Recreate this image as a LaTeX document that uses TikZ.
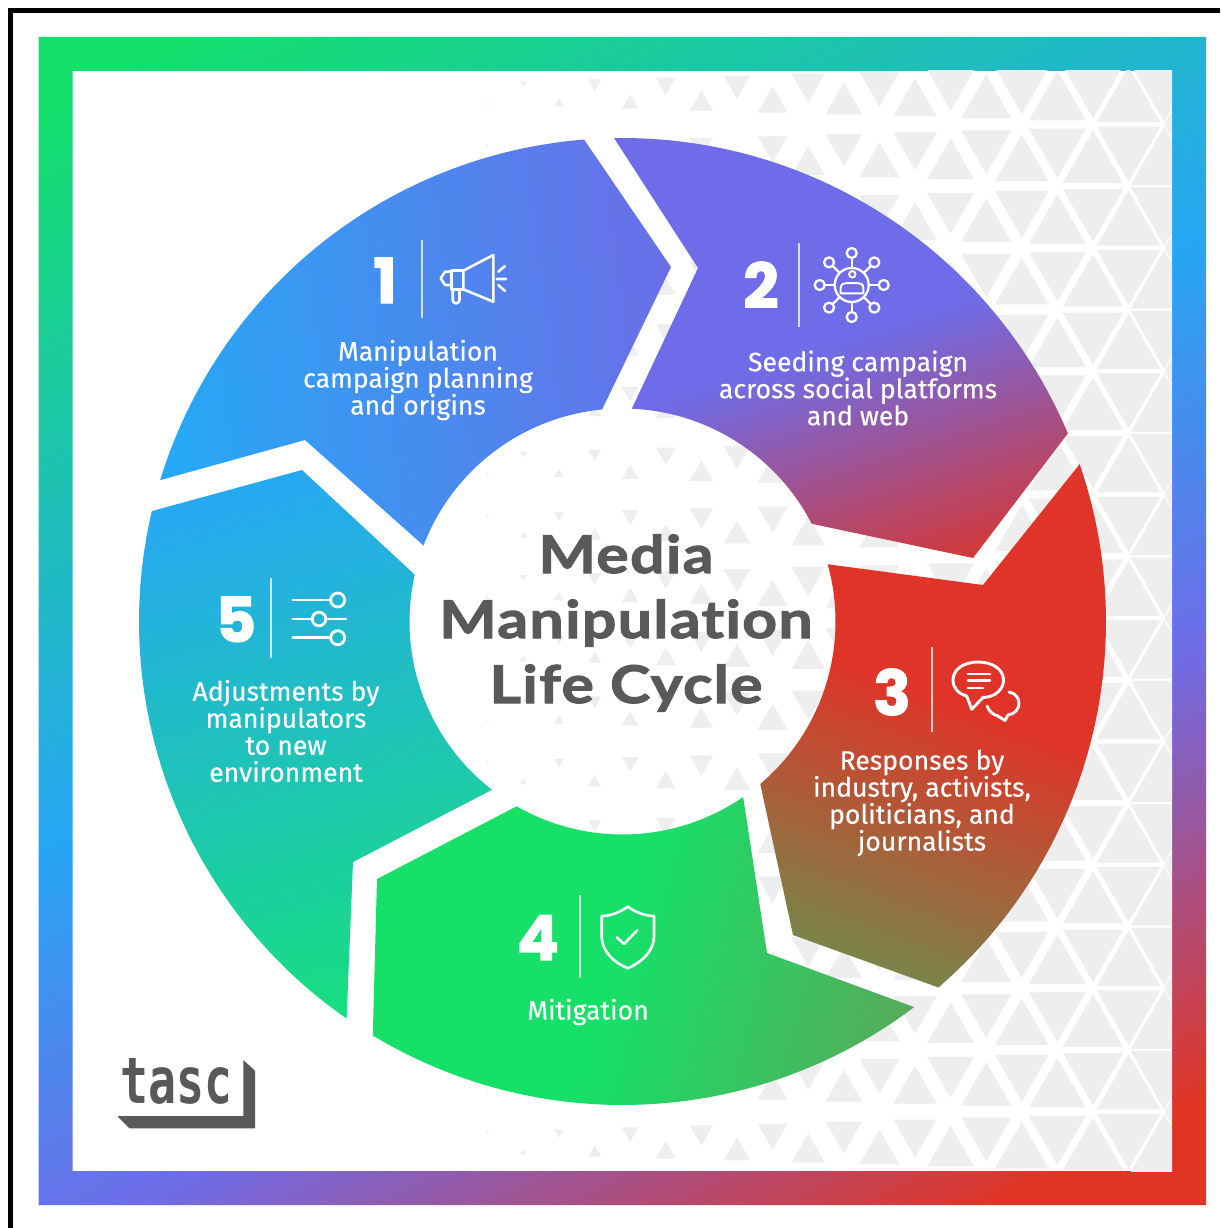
\documentclass[tikz,border=0pt]{standalone}
\usepackage{fontspec}
\usepackage{graphicx}
\usetikzlibrary{calc}
\newfontfamily\lblf[FakeBold=0.4]{Fira Sans}
\newfontfamily\ttlf[Ligatures=NoCommon,FakeStretch=1.17,FakeBold=2,LetterSpace=2.5]{Lato}
\newfontfamily\digf[FakeBold=2]{Poppins}
\newfontfamily\logof{DejaVu Sans Mono}
\definecolor{fg0}{HTML}{14E06C}\definecolor{fg1}{HTML}{27A5F5}\definecolor{fg2}{HTML}{6E6CE8}\definecolor{fg3}{HTML}{E03525}
\definecolor{sa0}{HTML}{26A8F7}\definecolor{sa1}{HTML}{6A6EE8}
\definecolor{sb0}{HTML}{6E6CE8}\definecolor{sb1}{HTML}{D03A3C}
\definecolor{sc0}{HTML}{E03428}\definecolor{sc1}{HTML}{6F8C4C}
\definecolor{sd0}{HTML}{16E068}\definecolor{sd1}{HTML}{5AA85A}
\definecolor{se0}{HTML}{26A9F0}\definecolor{se1}{HTML}{17DE80}
\definecolor{ink}{HTML}{58595B}
\definecolor{tri}{HTML}{EEEEEE}
\pgfdeclarehorizontalshading{framesh}{100bp}{color(0bp)=(fg0);color(44.25bp)=(fg0);color(49.5bp)=(fg1);color(52.31bp)=(fg2);color(55.5bp)=(fg3);color(100bp)=(fg3)}
\newcommand\twostop[3]{\pgfdeclarehorizontalshading{#1}{100bp}{color(0bp)=(#2);color(43.75bp)=(#2);color(56.25bp)=(#3);color(100bp)=(#3)}}
\twostop{sha}{sa0}{sa1}\twostop{shb}{sb0}{sb1}\twostop{shc}{sc0}{sc1}\twostop{shd}{sd0}{sd1}\twostop{she}{se0}{se1}
% #1 shading, #2 start, #3 end, #4 path to clip
\newcommand\gradfill[4]{%
  \begin{scope}
    \clip #4;
    \coordinate (gA) at (#2);
    \coordinate (gB) at (#3);
    \path let \p1=($(gB)-(gA)$), \p2=($(gA)!.5!(gB)$), \n1={atan2(\y1,\x1)}, \n2={2*veclen(\x1,\y1)} in
      [shading=#1,shading angle=\n1,shade]
      (\x2-\n2,\y2-\n2) rectangle (\x2+\n2,\y2+\n2);
  \end{scope}}
\def\ox{{622.5+483.5*cos(\x)}}
\def\oy{{621.5+483.5*sin(\x)}}
\def\ix{{622.5+213*cos(\x)}}
\def\iy{{621.5+213*sin(\x)}}
\tikzset{
  lbl/.style={text=white,font=\lblf\fontsize{26.6}{27}\selectfont,align=center,inner sep=0pt},
  ttl/.style={text=ink,font=\ttlf\bfseries\fontsize{52}{52}\selectfont,inner sep=0pt,anchor=base},
  dig/.style={text=white,font=\digf\bfseries\fontsize{62}{62}\selectfont,inner sep=0pt,anchor=base},
  divider/.style={draw=white,draw opacity=.75,line width=1.8pt},
  icon/.style={draw=white,line width=2.6pt,line join=round,line cap=round},
  samples=50
}
\begin{document}
\begin{tikzpicture}[x=1pt,y=-1pt]
\useasboundingbox (0,0) rectangle (1220,1228);
\fill[white] (0,0) rectangle (1220,1228);
% black edge
\fill[black] (8,8.5) rectangle (1220,13.2);
\fill[black] (8,8.5) rectangle (12.7,1228);
% frame
\gradfill{framesh}{38,37}{775,1432}{(38.5,37) -- (1206,37) -- (1206,1205) -- (38.5,1205) -- cycle (72.5,71) -- (72.5,1171) -- (1172,1171) -- (1172,71) -- cycle}
% triangle pattern
\begin{scope}
\clip (72.5,71) rectangle (1172,1171);
\foreach \j in {0,...,17}{
  \pgfmathsetmacro\yt{62.7+61.7*\j}
  \pgfmathsetmacro\xu{ifthenelse(mod(\j,2)==1,1093,1128.6)}
  \pgfmathsetmacro\xd{ifthenelse(mod(\j,2)==1,1128.6,1093)}
  \foreach \m in {-9,...,1}{
    \pgfmathsetmacro\ax{\xu+71.2*\m}
    \pgfmathsetmacro\sa{min(1,(\ax-455)*0.00132)}
    \ifdim\sa pt>0pt
      \fill[tri] (\ax,\yt+41.13-41.13*\sa) -- (\ax+35.6*\sa,\yt+41.13+20.57*\sa) -- (\ax-35.6*\sa,\yt+41.13+20.57*\sa) -- cycle;
    \fi
    \pgfmathsetmacro\bx{\xd+71.2*\m}
    \pgfmathsetmacro\sb{min(1,(\bx-455)*0.00132)}
    \ifdim\sb pt>0pt
      \fill[tri] (\bx,\yt+20.57+41.13*\sb) -- (\bx+35.6*\sb,\yt+20.57-20.57*\sb) -- (\bx-35.6*\sb,\yt+20.57-20.57*\sb) -- cycle;
    \fi
  }
}
\end{scope}
% segments
\gradfill{sha}{170,400}{680,330}{plot[domain=197:265.44] (\ox,\oy) -- (671,267) -- plot[domain=264.5:200.9] (\ix,\iy) -- (305,440) -- cycle}
\gradfill{shb}{850,340}{926,568}{plot[domain=269:337.1] (\ox,\oy) -- (973,558) -- plot[domain=332.7:272.5] (\ix,\iy) -- (698,268) -- cycle}
\gradfill{shc}{1000,720}{895,1002}{plot[domain=-19:49.2] (\ox,\oy) -- (793,935) -- plot[domain=49.7:-15.6] (\ix,\iy) -- (983,585) -- cycle}
\gradfill{shd}{620,950}{920,1030}{plot[domain=52.9:121.1] (\ox,\oy) -- (377,879) -- plot[domain=119.8:55.5] (\ix,\iy) -- (767,953) -- cycle}
\gradfill{she}{210,510}{345,1010}{plot[domain=124.8:193.2] (\ox,\oy) -- (302,470) -- plot[domain=192.7:127.8] (\ix,\iy) -- (353,862) -- cycle}
% title
\node[ttl] (t1) at (626,573) {Media};
\node[ttl] (t2) at (626,638) {Manipulation};
\node[ttl] (t3) at (626,703) {Life Cycle};
% digits
\node[dig] (d1) at (385,303) {1};
\node[dig] (d2) at (761,308) {2};
\node[dig] (d3) at (892,715) {3};
\node[dig] (d4) at (538,960) {4};
\node[dig] (d5) at (236,642) {5};
% dividers
\draw[divider] (421.7,240) -- (421.7,318);
\draw[divider] (799,243) -- (799,327);
\draw[divider] (932,647) -- (932,732);
\draw[divider] (580,895) -- (580,978);
\draw[divider] (270.7,578) -- (270.7,658);
% labels
\node[lbl] (l1) at (418,380) {Manipulation\\campaign planning\\and origins};
\node[lbl] (l2) at (858,388) {Seeding campaign\\across social platforms\\and web};
\node[lbl] (l3) at (922,803) {Responses by\\industry, activists,\\politicians, and\\journalists};
\node[lbl] (l4) at (588,1012) {Mitigation};
\node[lbl] (l5) at (286,731) {Adjustments by\\manipulators\\to new\\environment};
% icon 1 megaphone
\draw[icon] (463.3,270.7) -- (493.3,255) -- (493.3,301.7) -- (463.3,289.3) -- cycle;
\draw[icon] (463.3,270.7) -- (451.7,270.7) -- (451.7,289.3) -- (463.3,289.3);
\draw[icon] (451.7,271.7) -- (445,271.7) -- (440.7,278.3) -- (445,285) -- (451.7,285);
\draw[icon] (452.7,289.3) -- (452.7,300) arc[start angle=180,end angle=0,radius=3.4] -- (459.5,289.3);
\draw[icon] (498.3,271.7) -- (505,266) (496.7,279) -- (506,279) (498.3,285) -- (505,291);
% icon 2 network
\begin{scope}[shift={(851.7,285)}]
\draw[icon,line width=2.3pt] (0,0) circle[radius=17];
\foreach \a in {0,45,...,315}{
  \draw[icon,line width=2.3pt] (\a:17) -- (\a:27);
  \draw[icon,line width=2.3pt] (\a:32) circle[radius=5];
}
\draw[icon,line width=2pt] (0.6,-10.7) circle[radius=3.2];
\draw[icon,line width=2pt] (-11,8.3) -- (-11,3) .. controls (-11,-1.5) and (-7,-2) .. (-4,-2) -- (5,-2) .. controls (8,-2) and (11.6,-1.5) .. (11.6,3) -- (11.6,8.3) -- cycle;
\end{scope}
% icon 3 chat
\draw[icon,line width=2.9pt] (966.7,696) -- (971.7,709.3) -- (983,697.5) .. controls (997,697) and (1003.5,688) .. (1003.5,680) .. controls (1003.5,669) and (992,662) .. (978.3,662) .. controls (964,662) and (953,669) .. (953,680) .. controls (953,688) and (958,693.5) .. (966.7,696) -- cycle;
\draw[icon,line width=2.9pt] (968,674) -- (990,674) (968,680.7) -- (990,680.7) (968,688) -- (983,688);
\draw[icon,line width=2.9pt] (1009,692) .. controls (1016,693) and (1019,699) .. (1019,703) .. controls (1019,709) and (1015,714) .. (1008,715) -- (1005,720.5) -- (997,715.5) .. controls (993,715) and (989,711) .. (987,706);
% icon 4 shield
\draw[icon] (627.7,906.7) .. controls (635,912) and (645,916) .. (654,916) -- (654,936.7) .. controls (654,952) and (640,963) .. (627.7,968.3) .. controls (615,963) and (601.7,952) .. (601.7,936.7) -- (601.7,916) .. controls (611,916) and (620,912) .. (627.7,906.7) -- cycle;
\draw[icon] (616.7,937.3) -- (624,944) -- (637.3,930);
% icon 5 sliders
\draw[icon,line width=2.8pt] (292.7,600) -- (330.5,600) (292.7,637.7) -- (330.5,637.7) (292.7,619) -- (312,619) (326,619) -- (346,619);
\draw[icon,line width=2.8pt] (337.7,600) circle[radius=7] (319,619) circle[radius=6.8] (337.7,637.7) circle[radius=7];
% logo
\fill[ink] (243.3,1060) -- (255,1070.7) -- (255,1128.3) -- (129.3,1128.3) -- (117.3,1116) -- (243.3,1116) -- cycle;
\node[inner sep=0pt,text=ink,anchor=south west] (logo) at (120,1105) {\resizebox{112pt}{45pt}{\logof\bfseries tasc}};
\end{tikzpicture}
\end{document}
